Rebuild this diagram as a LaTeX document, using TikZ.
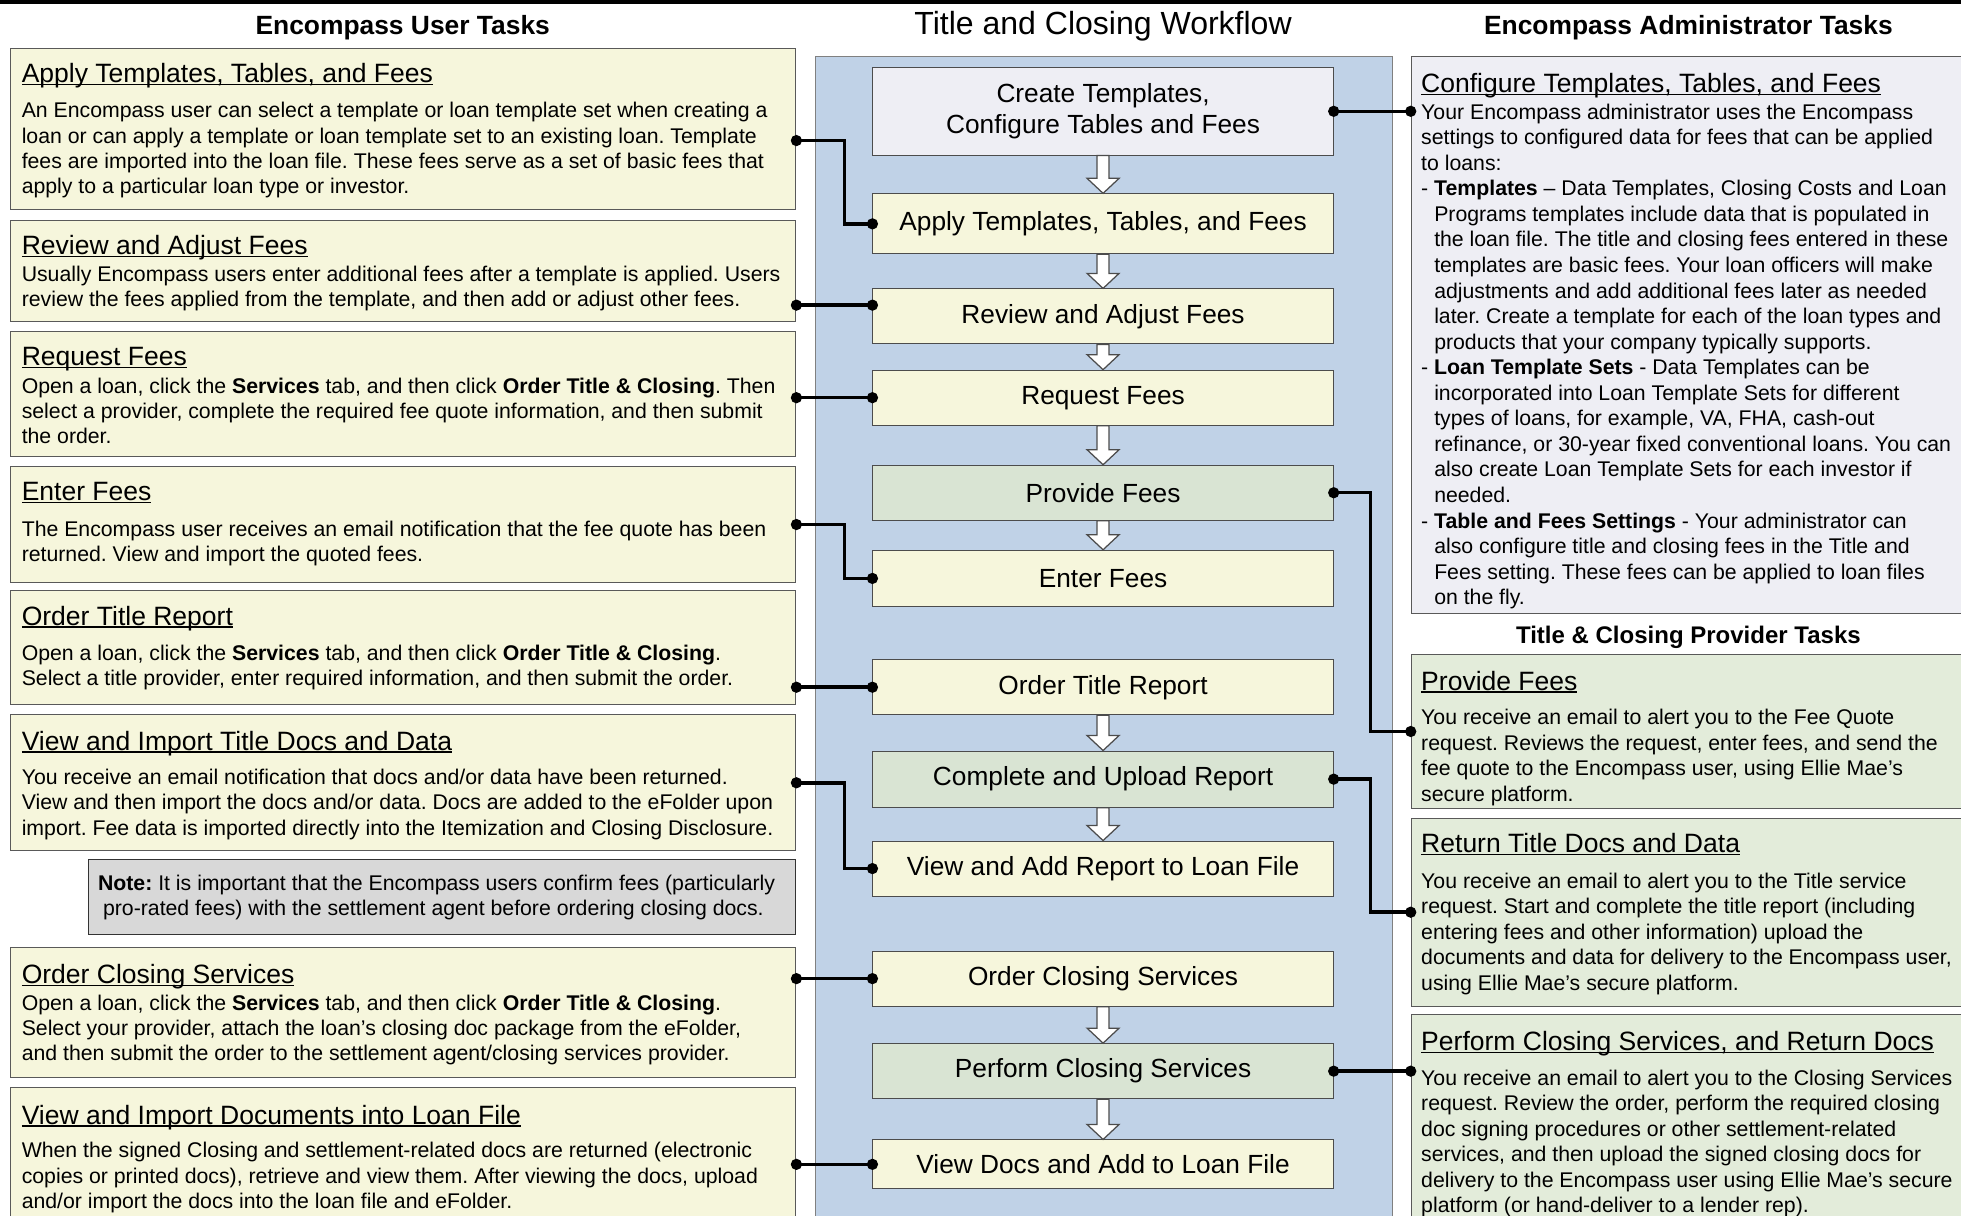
\documentclass[tikz,border=0pt]{standalone}
\usepackage{fontspec}
\setmainfont{Liberation Sans}
\usetikzlibrary{arrows.meta,calc,positioning}
\frenchspacing

\definecolor{usrfill}{HTML}{F6F6DC}
\definecolor{flowbg}{HTML}{C0D2E7}
\definecolor{cfgfill}{HTML}{EEEEF4}
\definecolor{provfill}{HTML}{E3ECDA}
\definecolor{provflow}{HTML}{D9E4D3}
\definecolor{notefill}{HTML}{D8D8D8}

\newsavebox\ttlbox
\newcommand\tasktitle[1]{{\fontsize{10.6}{12}\selectfont\sbox\ttlbox{#1}\rlap{\rule[-1pt]{\wd\ttlbox}{0.45pt}}\usebox\ttlbox}}
\newcommand\bulind{\hspace*{5.2pt}}

\begin{document}
\begin{tikzpicture}[x=0.5pt,y=-0.5pt,
   usrbox/.style={draw=black!65,fill=usrfill,minimum width=314pt,anchor=north west,inner sep=0pt},
   cfgbox/.style={usrbox,fill=cfgfill,minimum width=230pt},
   provbox/.style={usrbox,fill=provfill,minimum width=230pt},
   tasktext/.style={anchor=north west,align=left,inner sep=0pt,font=\fontsize{8.5}{10.15}\selectfont},
   flowbox/.style={draw=black!70,fill=usrfill,minimum width=184pt,minimum height=22pt,inner sep=0pt,font=\fontsize{10.5}{12.5}\selectfont},
   heading/.style={font=\bfseries\fontsize{10.55}{12}\selectfont},
   link/.style={line width=1.4pt,{Circle[length=4.4pt]}-{Circle[length=4.4pt]},shorten <=-2.2pt,shorten >=-2.2pt},
   flowarrow/.style={draw=black!70,fill=white,line width=0.5pt,to path={let \p1=(\tikztostart),\p2=(\tikztotarget) in
     (\x1-2.4pt,\y1) -- (\x1+2.4pt,\y1) -- (\x1+2.4pt,\y2+6pt) -- (\x1+6.4pt,\y2+6pt)
     -- (\x1,\y2) -- (\x1-6.4pt,\y2+6pt) -- (\x1-2.4pt,\y2+6pt) -- cycle}}]
   \useasboundingbox (0,0) rectangle (1568,972);
   \fill[white] (0,0) rectangle (1568,972);
   \draw[line width=1.6pt] (-5,1.6) -- (1575,1.6);

   % column headings
   \node[heading] (usrhead) at (322,22) {Encompass User Tasks};
   \node[font=\fontsize{12.8}{14}\selectfont] (flowhead) at (882,21) {Title and Closing Workflow};
   \node[heading] (admhead) at (1350,22) {Encompass Administrator Tasks};
   \node[heading,font=\bfseries\fontsize{9.6}{11}\selectfont] (provhead) at (1350,510) {Title \& Closing Provider Tasks};

   % user tasks
   \node[usrbox,minimum height=64.5pt] (u1) at (8,38) {};
   \node[tasktext] (u1t) at (17,50) {\tasktitle{Apply Templates, Tables, and Fees}\\[4pt]
      An Encompass user can select a template or loan template set when creating a\\
      loan or can apply a template or loan template set to an existing loan. Template\\
      fees are imported into the loan file. These fees serve as a set of basic fees that\\
      apply to a particular loan type or investor.};
   \node[usrbox,minimum height=40.5pt] (u2) at (8,176) {};
   \node[tasktext] (u2t) at (17,188) {\tasktitle{Review and Adjust Fees}\\[0.5pt]
      Usually Encompass users enter additional fees after a template is applied. Users\\
      review the fees applied from the template, and then add or adjust other fees.};
   \node[usrbox,minimum height=50pt] (u3) at (8,265) {};
   \node[tasktext] (u3t) at (17,277) {\tasktitle{Request Fees}\\[1pt]
      Open a loan, click the \textbf{Services} tab, and then click \textbf{Order Title \& Closing}. Then\\
      select a provider, complete the required fee quote information, and then submit\\
      the order.};
   \node[usrbox,minimum height=46pt] (u4) at (8,373) {};
   \node[tasktext] (u4t) at (17,385) {\tasktitle{Enter Fees}\\[4.3pt]
      The Encompass user receives an email notification that the fee quote has been\\
      returned. View and import the quoted fees.};
   \node[usrbox,minimum height=45.5pt] (u5) at (8,472) {};
   \node[tasktext] (u5t) at (17,484) {\tasktitle{Order Title Report}\\[4pt]
      Open a loan, click the \textbf{Services} tab, and then click \textbf{Order Title \& Closing}.\\
      Select a title provider, enter required information, and then submit the order.};
   \node[usrbox,minimum height=54.5pt] (u6) at (8,571) {};
   \node[tasktext] (u6t) at (17,584) {\tasktitle{View and Import Title Docs and Data}\\[3.5pt]
      You receive an email notification that docs and/or data have been returned.\\
      View and then import the docs and/or data. Docs are added to the eFolder upon\\
      import. Fee data is imported directly into the Itemization and Closing Disclosure.};
   \node[usrbox,fill=notefill,draw=black!80,minimum width=283pt,minimum height=30pt] (note) at (70,687) {};
   \node[tasktext] (notet) at (78,699) {\textbf{Note:} It is important that the Encompass users confirm fees (particularly\\
      \hspace*{2pt}pro-rated fees) with the settlement agent before ordering closing docs.};
   \node[usrbox,minimum height=52pt] (u8) at (8,757) {};
   \node[tasktext] (u8t) at (17,771) {\tasktitle{Order Closing Services}\\[0.3pt]
      Open a loan, click the \textbf{Services} tab, and then click \textbf{Order Title \& Closing}.\\
      Select your provider, attach the loan’s closing doc package from the eFolder,\\
      and then submit the order to the settlement agent/closing services provider.};
   \node[usrbox,minimum height=60pt] (u9) at (8,869) {};
   \node[tasktext] (u9t) at (17,883) {\tasktitle{View and Import Documents into Loan File}\\[3.4pt]
      When the signed Closing and settlement-related docs are returned (electronic\\
      copies or printed docs), retrieve and view them. After viewing the docs, upload\\
      and/or import the docs into the loan file and eFolder.};

   % workflow
   \node[draw=black!50,fill=flowbg,minimum width=230.5pt,minimum height=480pt,anchor=north west,inner sep=0pt] (panel) at (652,45) {};
   \node[flowbox,fill=cfgfill,minimum height=35pt,align=center] (crt) at (882,89) {Create Templates,\\Configure Tables and Fees};
   \node[flowbox,minimum height=24pt] (app) at (882,179) {Apply Templates, Tables, and Fees};
   \node[flowbox] (rev) at (882,253) {Review and Adjust Fees};
   \node[flowbox] (req) at (882,318) {Request Fees};
   \node[flowbox,fill=provflow] (prv) at (882,394) {Provide Fees};
   \node[flowbox,minimum height=22.5pt] (ent) at (882,462.5) {Enter Fees};
   \node[flowbox] (ord) at (882,549.5) {Order Title Report};
   \node[flowbox,fill=provflow,minimum height=22.5pt] (cmp) at (882,623) {Complete and Upload Report};
   \node[flowbox] (vrp) at (882,694.5) {View and Add Report to Loan File};
   \node[flowbox] (ocs) at (882,782.5) {Order Closing Services};
   \node[flowbox,fill=provflow] (pcs) at (882,856.5) {Perform Closing Services};
   \node[flowbox,minimum height=19.5pt] (vdl) at (882,931) {View Docs and Add to Loan File};

   \draw[flowarrow] (crt.south) to (app.north);
   \draw[flowarrow] (app.south) to (rev.north);
   \draw[flowarrow] (rev.south) to (req.north);
   \draw[flowarrow] (req.south) to (prv.north);
   \draw[flowarrow] (prv.south) to (ent.north);
   \draw[flowarrow] (ord.south) to (cmp.north);
   \draw[flowarrow] (cmp.south) to (vrp.north);
   \draw[flowarrow] (ocs.south) to (pcs.north);
   \draw[flowarrow] (pcs.south) to (vdl.north);

   % administrator and provider tasks
   \node[cfgbox,minimum height=222.5pt] (cfg) at (1128,45) {};
   \node[tasktext,font=\fontsize{8.5}{10.22}\selectfont] (cfgt) at (1136,58) {\tasktitle{Configure Templates, Tables, and Fees}\\[0.5pt]
      Your Encompass administrator uses the Encompass\\
      settings to configured data for fees that can be applied\\
      to loans:\\
      - \textbf{Templates} – Data Templates, Closing Costs and Loan\\
      \bulind Programs templates include data that is populated in\\
      \bulind the loan file. The title and closing fees entered in these\\
      \bulind templates are basic fees. Your loan officers will make\\
      \bulind adjustments and add additional fees later as needed\\
      \bulind later. Create a template for each of the loan types and\\
      \bulind products that your company typically supports.\\
      - \textbf{Loan Template Sets} - Data Templates can be\\
      \bulind incorporated into Loan Template Sets for different\\
      \bulind types of loans, for example, VA, FHA, cash-out\\
      \bulind refinance, or 30-year fixed conventional loans. You can\\
      \bulind also create Loan Template Sets for each investor if\\
      \bulind needed.\\
      - \textbf{Table and Fees Settings} - Your administrator can\\
      \bulind also configure title and closing fees in the Title and\\
      \bulind Fees setting. These fees can be applied to loan files\\
      \bulind on the fly.};
   \node[provbox,minimum height=61.5pt] (pf) at (1128,523) {};
   \node[tasktext,font=\fontsize{8.5}{10.22}\selectfont] (pft) at (1136,536) {\tasktitle{Provide Fees}\\[3.7pt]
      You receive an email to alert you to the Fee Quote\\
      request. Reviews the request, enter fees, and send the\\
      fee quote to the Encompass user, using Ellie Mae’s\\
      secure platform.};
   \node[provbox,minimum height=75pt] (rt) at (1128,654) {};
   \node[tasktext,font=\fontsize{8.5}{10.22}\selectfont] (rtt) at (1136,666) {\tasktitle{Return Title Docs and Data}\\[4pt]
      You receive an email to alert you to the Title service\\
      request. Start and complete the title report (including\\
      entering fees and other information) upload the\\
      documents and data for delivery to the Encompass user,\\
      using Ellie Mae’s secure platform.};
   \node[provbox,minimum height=90pt] (pc) at (1128,811) {};
   \node[tasktext,font=\fontsize{8.5}{10.22}\selectfont] (pct) at (1136,824) {\tasktitle{Perform Closing Services, and Return Docs}\\[3.7pt]
      You receive an email to alert you to the Closing Services\\
      request. Review the order, perform the required closing\\
      doc signing procedures or other settlement-related\\
      services, and then upload the signed closing docs for\\
      delivery to the Encompass user using Ellie Mae’s secure\\
      platform (or hand-deliver to a lender rep).};

   % links
   \coordinate (revin) at ($(rev.west)+(0,-9)$);
   \draw[link] ($(u1.east)+(0,9.5)$) -- ++(38.5,0) |- (app.west);
   \draw[link] (u2.east |- revin) -- (revin);
   \draw[link] (u3.east |- req.west) -- (req.west);
   \draw[link] (u4.east) -- ++(38.5,0) |- (ent.west);
   \draw[link] (u5.east |- ord.west) -- (ord.west);
   \draw[link] (u6.east) -- ++(38.5,0) |- (vrp.west);
   \draw[link] (u8.east |- ocs.west) -- (ocs.west);
   \draw[link] (u9.east |- vdl.west) -- (vdl.west);
   \draw[link] (crt.east) -- (crt.east -| cfg.west);
   \draw[link] (prv.east) -- ++(29.5,0) |- (pf.west);
   \draw[link] (cmp.east) -- ++(29.5,0) |- (rt.west);
   \draw[link] (pcs.east) -- (pcs.east -| pc.west);
\end{tikzpicture}
\end{document}
